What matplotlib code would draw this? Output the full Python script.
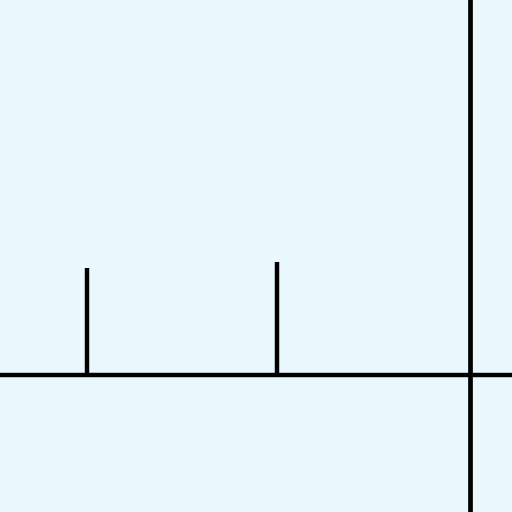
import matplotlib
matplotlib.use('Agg')
import matplotlib.pyplot as plt

# spike positions and heights
spike_x = [-2.0, -1.01]
spike_h = [1.0, 1.05]

bg = '#e8f8fc'

fig = plt.figure(figsize=(5.12, 5.12), dpi=100)
fig.patch.set_facecolor(bg)
ax = fig.add_axes([0, 0, 1, 1])
ax.set_facecolor(bg)

ax.axhline(0, color='black', lw=3.2)
ax.axvline(0, color='black', lw=3.4)
ax.vlines(spike_x, 0, spike_h, color='black', lw=3.2)

ax.set_xlim(-2.454, 0.219)
ax.set_ylim(-1.28, 3.5)
ax.axis('off')

fig.savefig('out.png', dpi=100, facecolor=bg)
